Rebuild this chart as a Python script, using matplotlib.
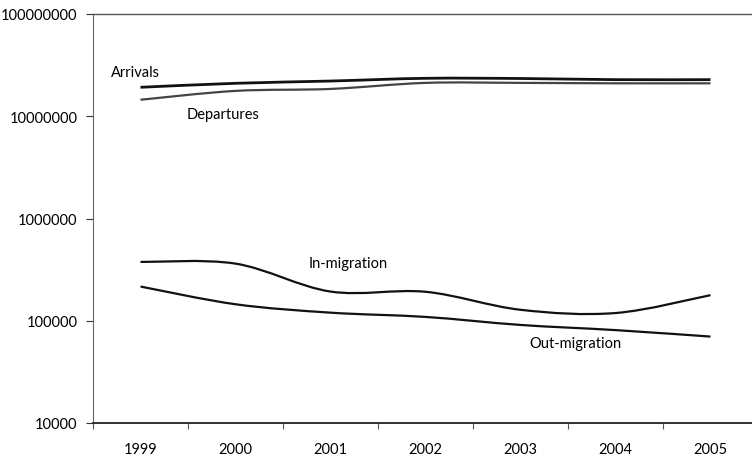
#!/usr/bin/env python3
import numpy as np
import matplotlib
matplotlib.use("Agg")
import matplotlib.pyplot as plt
from matplotlib.path import Path
from matplotlib.patches import PathPatch
from matplotlib.ticker import FixedLocator, FuncFormatter

years = ["1999", "2000", "2001", "2002", "2003", "2004", "2005"]
arrivals = [19.2e6, 21.0e6, 22.1e6, 23.5e6, 23.4e6, 22.8e6, 22.8e6]
departures = [14.5e6, 17.7e6, 18.5e6, 21.2e6, 21.2e6, 21.0e6, 21.0e6]
in_migration = [376000, 362000, 193000, 192000, 128000, 119000, 178000]
out_migration = [216000, 145000, 120000, 109000, 91000, 81000, 70000]


def smooth_path(xs, ys):
    # Excel-style smoothed line: cubic Bezier segments built in (x, log y) space
    x = np.asarray(xs, dtype=float)
    ly = np.log10(np.asarray(ys, dtype=float))
    pts = np.column_stack([x, ly])
    ext = np.vstack([pts[0], pts, pts[-1]])
    verts = [pts[0]]
    codes = [Path.MOVETO]
    for i in range(len(pts) - 1):
        p0, p1, p2, p3 = ext[i], ext[i + 1], ext[i + 2], ext[i + 3]
        c1 = p1 + (p2 - p0) / 6.0
        c2 = p2 - (p3 - p1) / 6.0
        verts += [c1, c2, p2]
        codes += [Path.CURVE4] * 3
    verts = np.array(verts)
    verts[:, 1] = 10 ** verts[:, 1]
    return Path(verts, codes)


plt.rcParams["font.family"] = ["Lato", "DejaVu Sans"]
plt.rcParams["font.size"] = 10.5

fig = plt.figure(figsize=(7.52, 4.64), dpi=100)
ax = fig.add_axes([93 / 752, 40 / 464, 665 / 752, 409 / 464])
ax.set_yscale("log")
ax.set_ylim(1e4, 1e8)
ax.set_xlim(-0.5, len(years) - 0.5)

xpos = np.arange(len(years))
series = [
    (arrivals, "#111111", 2.0),
    (departures, "#444444", 1.6),
    (in_migration, "#111111", 1.6),
    (out_migration, "#111111", 1.6),
]
for vals, color, lw in series:
    patch = PathPatch(smooth_path(xpos, vals), facecolor="none",
                      edgecolor=color, lw=lw, capstyle="butt")
    ax.add_patch(patch)

ax.yaxis.set_major_locator(FixedLocator([1e4, 1e5, 1e6, 1e7, 1e8]))
ax.yaxis.set_minor_locator(FixedLocator([]))
ax.yaxis.set_major_formatter(FuncFormatter(lambda v, p: f"{int(round(v))}"))
ax.tick_params(axis="y", direction="out", length=5, width=0.8, pad=6,
               colors="#333333", labelcolor="black")

ax.set_xticks(np.arange(len(years) + 1) - 0.5)
ax.set_xticklabels([])
ax.set_xticks(xpos, minor=True)
ax.set_xticklabels(years, minor=True)
ax.tick_params(axis="x", which="major", direction="out", length=4, width=0.8,
               colors="#555555")
ax.tick_params(axis="x", which="minor", length=0, pad=14, labelcolor="black")

ax.spines["left"].set_color("#666666")
ax.spines["left"].set_linewidth(0.8)
ax.spines["top"].set_color("#555555")
ax.spines["top"].set_linewidth(1.0)
ax.spines["bottom"].set_color("#222222")
ax.spines["bottom"].set_linewidth(1.3)
ax.spines["right"].set_visible(False)

ax.text(-0.05, 27e6, "Arrivals", ha="center", va="center")
ax.text(0.87, 10.5e6, "Departures", ha="center", va="center")
ax.text(2.19, 370000, "In-migration", ha="center", va="center")
ax.text(4.58, 60000, "Out-migration", ha="center", va="center")

fig.savefig("out.png", dpi=100)
